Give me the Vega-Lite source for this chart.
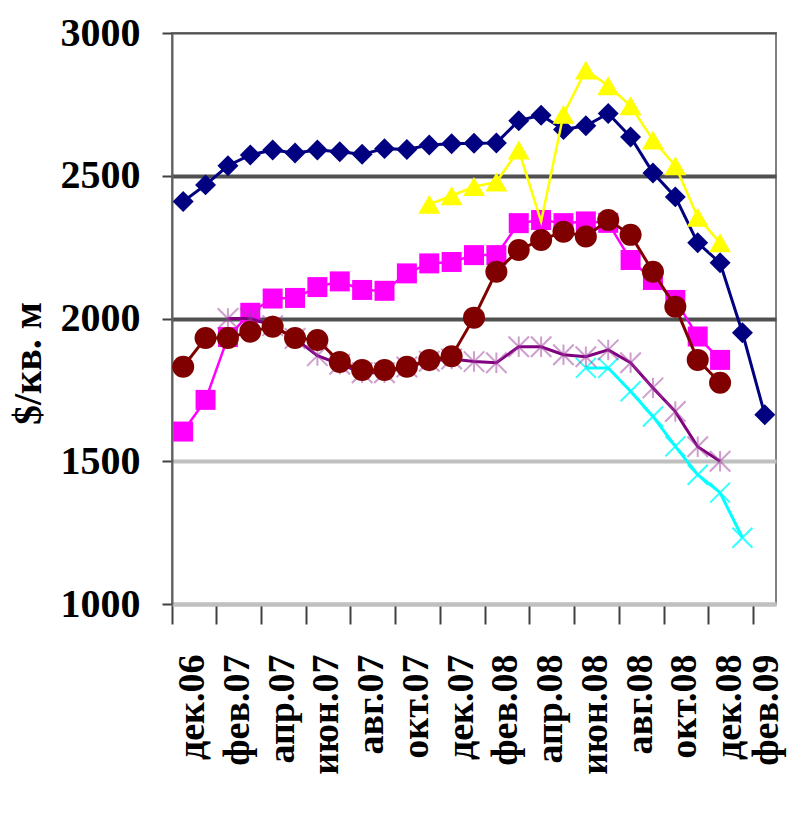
{
  "$schema": "https://vega.github.io/schema/vega-lite/v6.json",
  "width": 604,
  "height": 571,
  "autosize": {"type": "none"},
  "padding": {"left": 172, "top": 33, "right": 12, "bottom": 221},
  "background": "white",
  "config": {"view": {"stroke": "#808080", "strokeWidth": 2}, "font": "Liberation Serif"},
  "data": {"values": [
    {"s": "N", "m": "дек.06", "v": 2410}, {"s": "N", "m": "янв.07", "v": 2468}, {"s": "N", "m": "фев.07", "v": 2535},
    {"s": "N", "m": "мар.07", "v": 2573}, {"s": "N", "m": "апр.07", "v": 2590}, {"s": "N", "m": "май.07", "v": 2580},
    {"s": "N", "m": "июн.07", "v": 2590}, {"s": "N", "m": "июл.07", "v": 2584}, {"s": "N", "m": "авг.07", "v": 2575},
    {"s": "N", "m": "сен.07", "v": 2595}, {"s": "N", "m": "окт.07", "v": 2592}, {"s": "N", "m": "ноя.07", "v": 2608},
    {"s": "N", "m": "дек.07", "v": 2612}, {"s": "N", "m": "янв.08", "v": 2614}, {"s": "N", "m": "фев.08", "v": 2615},
    {"s": "N", "m": "мар.08", "v": 2693}, {"s": "N", "m": "апр.08", "v": 2712}, {"s": "N", "m": "май.08", "v": 2662},
    {"s": "N", "m": "июн.08", "v": 2675}, {"s": "N", "m": "июл.08", "v": 2718}, {"s": "N", "m": "авг.08", "v": 2636},
    {"s": "N", "m": "сен.08", "v": 2510}, {"s": "N", "m": "окт.08", "v": 2426}, {"s": "N", "m": "ноя.08", "v": 2265},
    {"s": "N", "m": "дек.08", "v": 2195}, {"s": "N", "m": "янв.09", "v": 1950}, {"s": "N", "m": "фев.09", "v": 1663},

    {"s": "Y", "m": "ноя.07", "v": 2400}, {"s": "Y", "m": "дек.07", "v": 2430}, {"s": "Y", "m": "янв.08", "v": 2462},
    {"s": "Y", "m": "фев.08", "v": 2478}, {"s": "Y", "m": "мар.08", "v": 2590}, {"s": "Y", "m": "апр.08", "v": 2340},
    {"s": "Y", "m": "май.08", "v": 2715}, {"s": "Y", "m": "июн.08", "v": 2870}, {"s": "Y", "m": "июл.08", "v": 2815},
    {"s": "Y", "m": "авг.08", "v": 2745}, {"s": "Y", "m": "сен.08", "v": 2625}, {"s": "Y", "m": "окт.08", "v": 2535},
    {"s": "Y", "m": "ноя.08", "v": 2355}, {"s": "Y", "m": "дек.08", "v": 2265},

    {"s": "M", "m": "дек.06", "v": 1604}, {"s": "M", "m": "янв.07", "v": 1715}, {"s": "M", "m": "фев.07", "v": 1935},
    {"s": "M", "m": "мар.07", "v": 2020}, {"s": "M", "m": "апр.07", "v": 2070}, {"s": "M", "m": "май.07", "v": 2072},
    {"s": "M", "m": "июн.07", "v": 2110}, {"s": "M", "m": "июл.07", "v": 2130}, {"s": "M", "m": "авг.07", "v": 2100},
    {"s": "M", "m": "сен.07", "v": 2097}, {"s": "M", "m": "окт.07", "v": 2158}, {"s": "M", "m": "ноя.07", "v": 2193},
    {"s": "M", "m": "дек.07", "v": 2198}, {"s": "M", "m": "янв.08", "v": 2222}, {"s": "M", "m": "фев.08", "v": 2222},
    {"s": "M", "m": "мар.08", "v": 2334}, {"s": "M", "m": "апр.08", "v": 2345}, {"s": "M", "m": "май.08", "v": 2334},
    {"s": "M", "m": "июн.08", "v": 2340}, {"s": "M", "m": "июл.08", "v": 2335}, {"s": "M", "m": "авг.08", "v": 2205},
    {"s": "M", "m": "сен.08", "v": 2135}, {"s": "M", "m": "окт.08", "v": 2065}, {"s": "M", "m": "ноя.08", "v": 1937},
    {"s": "M", "m": "дек.08", "v": 1855},

    {"s": "B", "m": "дек.06", "v": 1831}, {"s": "B", "m": "янв.07", "v": 1932}, {"s": "B", "m": "фев.07", "v": 1932},
    {"s": "B", "m": "мар.07", "v": 1954}, {"s": "B", "m": "апр.07", "v": 1971}, {"s": "B", "m": "май.07", "v": 1932},
    {"s": "B", "m": "июн.07", "v": 1925}, {"s": "B", "m": "июл.07", "v": 1848}, {"s": "B", "m": "авг.07", "v": 1820},
    {"s": "B", "m": "сен.07", "v": 1820}, {"s": "B", "m": "окт.07", "v": 1831}, {"s": "B", "m": "ноя.07", "v": 1855},
    {"s": "B", "m": "дек.07", "v": 1868}, {"s": "B", "m": "янв.08", "v": 2003}, {"s": "B", "m": "фев.08", "v": 2164},
    {"s": "B", "m": "мар.08", "v": 2240}, {"s": "B", "m": "апр.08", "v": 2275}, {"s": "B", "m": "май.08", "v": 2304},
    {"s": "B", "m": "июн.08", "v": 2287}, {"s": "B", "m": "июл.08", "v": 2345}, {"s": "B", "m": "авг.08", "v": 2293},
    {"s": "B", "m": "сен.08", "v": 2164}, {"s": "B", "m": "окт.08", "v": 2041}, {"s": "B", "m": "ноя.08", "v": 1855},
    {"s": "B", "m": "дек.08", "v": 1775},

    {"s": "P", "m": "фев.07", "v": 2000}, {"s": "P", "m": "мар.07", "v": 2000}, {"s": "P", "m": "апр.07", "v": 1975},
    {"s": "P", "m": "май.07", "v": 1930}, {"s": "P", "m": "июн.07", "v": 1870}, {"s": "P", "m": "июл.07", "v": 1840},
    {"s": "P", "m": "авг.07", "v": 1810}, {"s": "P", "m": "сен.07", "v": 1810}, {"s": "P", "m": "окт.07", "v": 1830},
    {"s": "P", "m": "ноя.07", "v": 1850}, {"s": "P", "m": "дек.07", "v": 1858}, {"s": "P", "m": "янв.08", "v": 1849},
    {"s": "P", "m": "фев.08", "v": 1845}, {"s": "P", "m": "мар.08", "v": 1901}, {"s": "P", "m": "апр.08", "v": 1901},
    {"s": "P", "m": "май.08", "v": 1873}, {"s": "P", "m": "июн.08", "v": 1866}, {"s": "P", "m": "июл.08", "v": 1890},
    {"s": "P", "m": "авг.08", "v": 1845}, {"s": "P", "m": "сен.08", "v": 1757}, {"s": "P", "m": "окт.08", "v": 1674},
    {"s": "P", "m": "ноя.08", "v": 1551}, {"s": "P", "m": "дек.08", "v": 1500},

    {"s": "C", "m": "июн.08", "v": 1827}, {"s": "C", "m": "июл.08", "v": 1827}, {"s": "C", "m": "авг.08", "v": 1745},
    {"s": "C", "m": "сен.08", "v": 1657}, {"s": "C", "m": "окт.08", "v": 1552}, {"s": "C", "m": "ноя.08", "v": 1453},
    {"s": "C", "m": "дек.08", "v": 1390}, {"s": "C", "m": "янв.09", "v": 1232}
  ]},
  "encoding": {
    "x": {
      "field": "m", "type": "ordinal",
      "scale": {"type": "band", "paddingInner": 0, "paddingOuter": 0,
        "domain": ["дек.06","янв.07","фев.07","мар.07","апр.07","май.07","июн.07","июл.07","авг.07","сен.07","окт.07","ноя.07","дек.07","янв.08","фев.08","мар.08","апр.08","май.08","июн.08","июл.08","авг.08","сен.08","окт.08","ноя.08","дек.08","янв.09","фев.09"]},
      "axis": {
        "values": ["дек.06","фев.07","апр.07","июн.07","авг.07","окт.07","дек.07","фев.08","апр.08","июн.08","авг.08","окт.08","дек.08","фев.09"],
        "bandPosition": 0,
        "labelOffset": {"condition": {"test": "datum.value === 'фев.09'", "value": 2}, "value": 10},
        "title": null,
        "labelAngle": 270,
        "labelAlign": "right",
        "labelBaseline": "middle",
        "labelFont": "Liberation Serif",
        "labelFontSize": 38,
        "labelFontWeight": "bold",
        "labelColor": "black",
        "labelPadding": 30,
        "labelOverlap": false,
        "labelBound": false,
        "labelFlush": false,
        "tickSize": 20,
        "tickWidth": 2,
        "tickColor": "#404040",
        "domainColor": "#c0c0c0",
        "domainWidth": 4,
        "grid": false
      }
    },
    "y": {
      "field": "v", "type": "quantitative",
      "scale": {"domain": [1000, 3000], "nice": false, "zero": false},
      "axis": {
        "values": [1000, 1500, 2000, 2500, 3000],
        "format": "d",
        "title": "$/кв. м",
        "titleFont": "Liberation Serif",
        "titleFontSize": 40,
        "titleFontWeight": "bold",
        "titleColor": "black",
        "titleAngle": 270,
        "titleAlign": "center",
        "titleBaseline": "middle",
        "titleX": -144,
        "titleY": 330,
        "labelFont": "Liberation Serif",
        "labelFontSize": 40,
        "labelFontWeight": "bold",
        "labelColor": "black",
        "labelPadding": 22,
        "tickSize": 10,
        "tickWidth": 2,
        "tickColor": "#404040",
        "domainColor": "#606060",
        "domainWidth": 2,
        "grid": true,
        "gridColor": {"condition": {"test": "datum.value === 1500 || datum.value === 1000", "value": "#c0c0c0"}, "value": "#505050"},
        "gridWidth": {"condition": {"test": "datum.value === 3000", "value": 2}, "value": 4}
      }
    }
  },
  "layer": [
    {"transform": [{"filter": "datum.s === 'M'"}],
     "mark": {"type": "line", "color": "#FF00FF", "strokeWidth": 2.5,
       "point": {"shape": "square", "size": 400, "filled": true, "color": "#FF00FF"}}},
    {"transform": [{"filter": "datum.s === 'C'"}],
     "mark": {"type": "line", "color": "#00FFFF", "strokeWidth": 3,
       "point": {"shape": "M-1,-1L1,1M-1,1L1,-1", "size": 400, "filled": false, "stroke": "#00FFFF", "strokeWidth": 2, "opacity": 0.8}}},
    {"transform": [{"filter": "datum.s === 'P'"}],
     "mark": {"type": "line", "color": "#800080", "strokeWidth": 3,
       "point": {"shape": "M-1,-1L1,1M-1,1L1,-1M0,-1L0,1", "size": 420, "filled": false, "stroke": "#A040A0", "strokeWidth": 2, "opacity": 0.5}}},
    {"transform": [{"filter": "datum.s === 'N'"}],
     "mark": {"type": "line", "color": "#000080", "strokeWidth": 3,
       "point": {"shape": "diamond", "size": 440, "filled": true, "color": "#000080"}}},
    {"transform": [{"filter": "datum.s === 'Y'"}],
     "mark": {"type": "line", "color": "#FFFF00", "strokeWidth": 2.5}},
    {"transform": [{"filter": "datum.s === 'Y' && datum.m !== 'апр.08'"}],
     "mark": {"type": "point", "shape": "triangle-up", "size": 480, "filled": true, "color": "#FFFF00", "opacity": 1}},
    {"transform": [{"filter": "datum.s === 'B'"}],
     "mark": {"type": "line", "color": "#800000", "strokeWidth": 3,
       "point": {"shape": "circle", "size": 484, "filled": true, "color": "#800000"}}}
  ]
}
